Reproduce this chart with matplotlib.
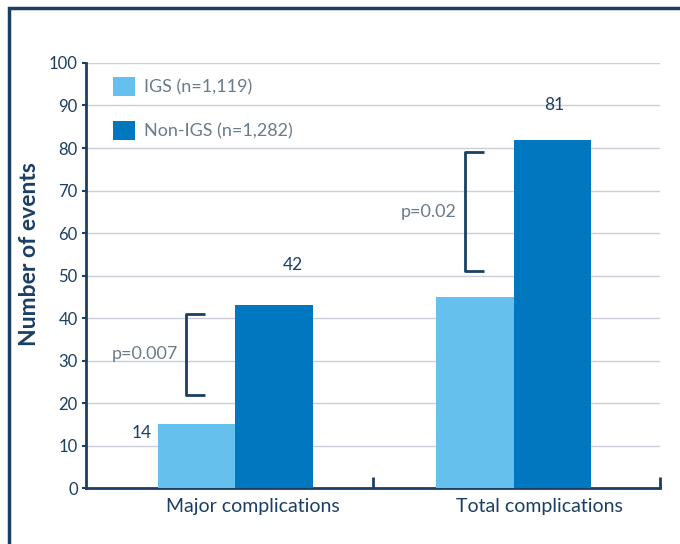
import matplotlib.pyplot as plt
from matplotlib.patches import Rectangle
import numpy as np

plt.rcParams["font.family"] = ["Lato", "DejaVu Sans"]

categories = ["Major complications", "Total complications"]
igs_values = [15, 45]
non_igs_values = [43, 82]
igs_labels = ["14", ""]
non_igs_labels = ["42", "81"]
p_values = ["p=0.007", "p=0.02"]
bracket_ranges = [(22, 41), (51, 79)]
legend_labels = ["IGS (n=1,119)", "Non-IGS (n=1,282)"]

NAVY = "#1b3f63"
LIGHT = "#66c0ee"
DARK = "#0077be"
GREY_TEXT = "#6a7b8b"

fig = plt.figure(figsize=(6.8, 5.44), dpi=100)
ax = fig.add_axes([0.1265, 0.1029, 0.8441, 0.7813])

# outer frame, runs off the right and bottom edges
fig.patches.append(Rectangle((9 / 680, -0.1), 1.2, 1.1 - 8 / 544, transform=fig.transFigure,
                             fill=False, ec=NAVY, lw=2.5, clip_on=False))

# groups sit a touch off the category centres in the original
shift = np.array([0.02, -0.01])
x = np.arange(len(categories)) + shift
w = 0.27
ax.bar(x - w / 2, igs_values, w, color=LIGHT, label=legend_labels[0], zorder=3)
ax.bar(x + w / 2, non_igs_values, w, color=DARK, label=legend_labels[1], zorder=3)

label_dx = [0.2, 0.14]
label_dy = [9.5, 8]
for i in range(len(categories)):
    if igs_labels[i]:
        ax.text(x[i] - w - 0.02, igs_values[i] - 2, igs_labels[i], ha="right", va="center",
                fontsize=12.5, color=NAVY)
    ax.text(x[i] + label_dx[i], non_igs_values[i] + label_dy[i], non_igs_labels[i],
            ha="center", va="center", fontsize=12.5, color=NAVY)
    lo, hi = bracket_ranges[i]
    bx = x[i] - 0.17
    ax.plot([bx + 0.065, bx, bx, bx + 0.065], [hi, hi, lo, lo], color=NAVY, lw=2, zorder=4,
            solid_capstyle="butt")
    ax.text(bx - 0.03, (lo + hi) / 2, p_values[i], ha="right", va="center", fontsize=13,
            color=GREY_TEXT)

ax.set_xlim(-0.5, 1.5)
ax.set_ylim(0, 100)
ax.set_yticks(range(0, 101, 10))
ax.set_xticks(np.arange(len(categories)) + 0.08)
ax.set_xticklabels(categories, fontsize=14, color=NAVY)
ax.set_xticks([0.5, 1.5], minor=True)
ax.tick_params(axis="x", which="major", length=0, pad=7)
ax.tick_params(axis="x", which="minor", direction="in", length=8, width=2, color=NAVY)
ax.tick_params(axis="y", length=3, width=1.5, color=NAVY, labelcolor=NAVY, labelsize=12, pad=3)

ax.grid(axis="y", color="#c9ced8", lw=1, zorder=0)
for s in ["top", "right"]:
    ax.spines[s].set_visible(False)
for s in ["left", "bottom"]:
    ax.spines[s].set_color(NAVY)
    ax.spines[s].set_linewidth(2)

ax.set_ylabel("Number of events", fontsize=16.5, fontweight="bold", color=NAVY)
ax.yaxis.set_label_coords(-0.08, 0.55)

leg = ax.legend(loc="upper left", bbox_to_anchor=(0.018, 1.005), frameon=False, fontsize=13,
                handlelength=1.25, handleheight=1.25, labelspacing=1.35, handletextpad=0.5)
for t in leg.get_texts():
    t.set_color(GREY_TEXT)

fig.savefig("out.png", dpi=100)
